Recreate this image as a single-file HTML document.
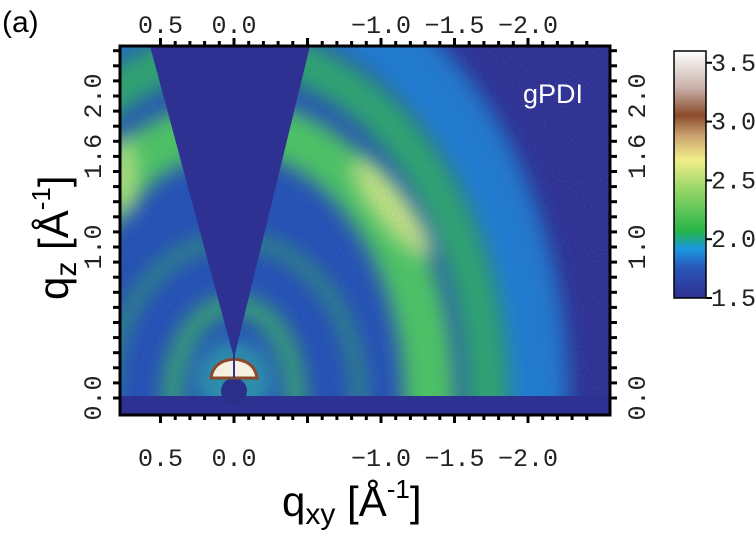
<!DOCTYPE html>
<html><head><meta charset="utf-8"><style>
html,body{margin:0;padding:0;background:#fff;overflow:hidden;width:756px;height:551px;}
svg{display:block;}
.tk{font-family:"Liberation Mono","DejaVu Sans Mono",monospace;font-size:25px;fill:#222;}
.lab{font-family:"Liberation Sans",sans-serif;fill:#000;}
</style></head><body>
<svg id="chart" width="756" height="551" viewBox="0 0 756 551" xmlns="http://www.w3.org/2000/svg">
<defs>
<clipPath id="plotclip"><rect x="120" y="46" width="490" height="369"/></clipPath>
<filter id="blur8" filterUnits="userSpaceOnUse" x="0" y="0" width="756" height="551"><feGaussianBlur stdDeviation="10"/></filter>
<filter id="blur16" filterUnits="userSpaceOnUse" x="0" y="0" width="756" height="551"><feGaussianBlur stdDeviation="18"/></filter>
<filter id="noise" filterUnits="userSpaceOnUse" x="0" y="0" width="756" height="551"><feTurbulence type="fractalNoise" baseFrequency="0.9" numOctaves="1" seed="3"/><feColorMatrix values="0 0 0 0 0.15  0 0 0 0 0.2  0 0 0 0 0.6  0 0 0 1.6 -0.75"/></filter>
<linearGradient id="cbar" x1="0" y1="1" x2="0" y2="0">
<stop offset="0" stop-color="#2e3192"/><stop offset="0.12" stop-color="#2a55b8"/>
<stop offset="0.2" stop-color="#1a98e0"/><stop offset="0.27" stop-color="#27b548"/>
<stop offset="0.45" stop-color="#9ed86a"/><stop offset="0.56" stop-color="#f2ee88"/>
<stop offset="0.66" stop-color="#c9a070"/><stop offset="0.74" stop-color="#8a4a2a"/>
<stop offset="0.85" stop-color="#c8b0a8"/><stop offset="1" stop-color="#ffffff"/>
</linearGradient>
</defs>
<text class="lab" x="2" y="32" font-size="30">(a)</text>
<g id="plot" clip-path="url(#plotclip)">
<rect x="120" y="46" width="490" height="369" fill="#2e3192"/>
<g id="rings"></g>
<rect x="120" y="46" width="490" height="369" filter="url(#noise)" opacity="0.55"/>
<polygon id="wedge" fill="#2e3192"/>
<rect x="120" y="396" width="490" height="19" fill="#2e3192"/>
<circle cx="234" cy="391" r="13" fill="#2a2f8a"/>
<path d="M211,378 Q213,361 234,359 Q255,361 257,378 Z" fill="#f5f0e0" stroke="#8a4a2a" stroke-width="3"/>
<line x1="234" y1="300" x2="234" y2="378" stroke="#2e3192" stroke-width="2"/>
</g>
<rect x="120" y="46" width="490" height="369" fill="none" stroke="#000" stroke-width="3"/>
<g id="ticks"></g>
<g id="labels"></g>
<text class="lab" font-size="42" transform="translate(68,300) rotate(-90)">q<tspan font-size="30" dy="8">z</tspan><tspan dy="-8"> [Å</tspan><tspan font-size="26" dy="-18">-1</tspan><tspan dy="18">]</tspan></text>
<text class="lab" font-size="42" x="282" y="516">q<tspan font-size="30" dy="8">xy</tspan><tspan dy="-8"> [Å</tspan><tspan font-size="26" dy="-18">-1</tspan><tspan dy="18">]</tspan></text>
<text x="583" y="103" text-anchor="end" font-family="Liberation Sans,sans-serif" font-size="27" fill="#fff">gPDI</text>
<rect x="674" y="51" width="32" height="247" fill="url(#cbar)" stroke="#000" stroke-width="1.5"/>
<g id="cbticks"></g>
</svg>
<script>
const xTicks=[0.5,0.0,-1.0,-1.5,-2.0];
const yTicks=[0.0,1.0,1.6,2.0];
const cbTicks=[3.5,3.0,2.5,2.0,1.5];
const ringNames=['inner-ring','middle-ring','main-ring','outer-ring','halo-ring'];
const ringRx=[0.42,0.85,1.33,1.72,2.05];
const ringRy=[0.62,1.05,1.8,2.3,2.75];
const ringWidth=[0.12,0.08,0.36,0.3,0.45];
const ringColor=['#3cc058','#33b45a','#4cc460','#2fb262','#1a88d8'];
const ringOpacity=[0.85,0.75,1,0.85,0.8];

const X=q=>234-147*q, Y=q=>398-151*q;
const CB=v=>298-(v-1.5)*(247/2.1);
const NS='http://www.w3.org/2000/svg';
function mk(t,a,p){const e=document.createElementNS(NS,t);for(const k in a)e.setAttribute(k,a[k]);p.appendChild(e);return e;}
function halfArc(rxq,ryq,closed){
  const cx=X(0),cy=Y(0),rx=X(0)-X(rxq),ry=Y(0)-Y(ryq),ext=30;
  return closed?`M${cx-rx},${cy+ext} L${cx-rx},${cy} A${rx} ${ry} 0 0 1 ${cx+rx},${cy} L${cx+rx},${cy+ext} Z`
              :`M${cx-rx},${cy+ext} L${cx-rx},${cy} A${rx} ${ry} 0 0 1 ${cx+rx},${cy} L${cx+rx},${cy+ext}`;
}
const rings=document.getElementById('rings');
const bg=mk('path',{d:halfArc(2.1,2.8,true),fill:'#1a6ad0',opacity:0.55,filter:'url(#blur16)'},rings);


for(let i=ringRx.length-1;i>=0;i--){
  const e=mk('path',{d:halfArc(ringRx[i],ringRy[i],false),fill:'none',stroke:ringColor[i],'stroke-width':(X(0)-X(ringWidth[i])),opacity:ringOpacity[i],filter:'url(#blur8)'},rings);
  
  
}
const pk1=mk('ellipse',{cx:392,cy:208,rx:62,ry:17,fill:'#f0f08a',opacity:0.75,transform:'rotate(52 392 208)',filter:'url(#blur8)'},rings);


const pk2=mk('ellipse',{cx:124,cy:176,rx:12,ry:40,fill:'#e8f088',opacity:0.7,filter:'url(#blur8)'},rings);


const ih=mk('circle',{cx:X(0),cy:Y(0)-18,r:40,fill:'#2fb8a0',opacity:0.6,filter:'url(#blur8)'},rings);


document.getElementById('wedge').setAttribute('points',`${X(0)},${Y(0)-40} 150,46 310,46`);

const tg=document.getElementById('ticks');
for(let q=0.5;q>=-2.5;q-=0.1){const x=X(q);if(x<122||x>608)continue;
  const big=Math.abs(Math.round(q*2)-q*2)<0.01;
  mk('line',{x1:x,y1:46,x2:x,y2:46-(big?8:5),stroke:'#000','stroke-width':3},tg);
  mk('line',{x1:x,y1:415,x2:x,y2:415+(big?8:5),stroke:'#000','stroke-width':3},tg);}
for(let q=-0.1;q<=2.4;q+=0.1){const y=Y(q);if(y<48||y>413)continue;
  mk('line',{x1:120,y1:y,x2:113,y2:y,stroke:'#000','stroke-width':3},tg);
  mk('line',{x1:610,y1:y,x2:617,y2:y,stroke:'#000','stroke-width':3},tg);}
const lg=document.getElementById('labels');
xTicks.forEach(v=>{const s=(v===0?'0.0':v.toFixed(1)).replace('-','−');
  [[33,'top'],[466,'bottom']].forEach(([yy,pos])=>{const t=mk('text',{x:X(v),y:yy,'text-anchor':'middle',class:'tk'},lg);t.textContent=s;
    
    });});
yTicks.forEach(v=>{[[101,'left'],[645,'right']].forEach(([xx,pos])=>{const t=mk('text',{transform:`translate(${xx},${Y(v)}) rotate(-90)`,'text-anchor':'middle',class:'tk'},lg);t.textContent=v.toFixed(1);
    
    });});
const cg=document.getElementById('cbticks');
cbTicks.forEach(v=>{const y=CB(v);
  mk('line',{x1:706,y1:y,x2:712,y2:y,stroke:'#000','stroke-width':2},cg);
  const t=mk('text',{x:711,y:y+8,class:'tk'},cg);t.textContent=v.toFixed(1);
  
  });
</script>
</body></html>
